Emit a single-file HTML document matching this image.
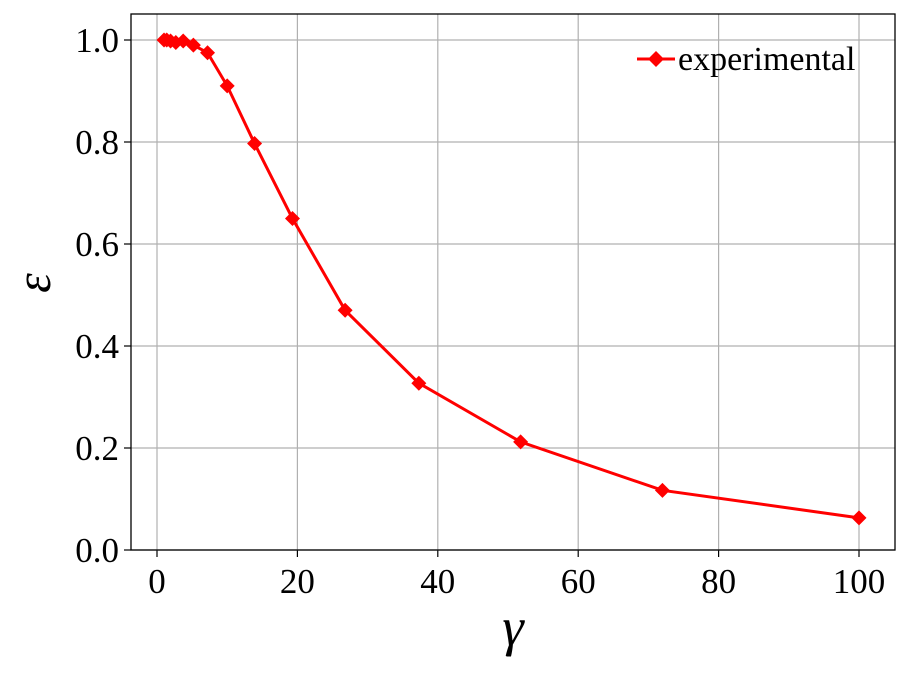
<!DOCTYPE html>
<html><head><meta charset="utf-8"><style>
body{margin:0;background:#fff}
text{font-family:"Liberation Serif",serif}
</style></head><body>
<svg id="c" width="909" height="668"></svg>
<script>
const xs=[1,1.39,1.93,2.68,3.73,5.18,7.2,10,13.9,19.3,26.8,37.3,51.8,72,100];
const ys=[1,1,0.998,0.995,0.998,0.99,0.975,0.91,0.797,0.65,0.47,0.327,0.212,0.117,0.063];
const xticks=[0,20,40,60,80,100];
const yticks=[0,0.2,0.4,0.6,0.8,1.0];
const L=131,R=895,T=14,B=550;
const X=v=>157+v*7.02, Y=v=>550-v*510;
const s=document.getElementById('c'),NS='http://www.w3.org/2000/svg';
function mk(t,a,p){const e=document.createElementNS(NS,t);for(const k in a)e.setAttribute(k,a[k]);(p||s).appendChild(e);return e;}
xticks.forEach(v=>{const g=mk('line',{x1:X(v),x2:X(v),y1:T,y2:B,stroke:'#b0b0b0','stroke-width':1.2});


const t=mk('line',{x1:X(v),x2:X(v),y1:B,y2:B+7,stroke:'#000','stroke-width':1.2});


const l=mk('text',{x:X(v),y:B+43,'font-size':35,'text-anchor':'middle'});l.textContent=v;

});
yticks.forEach(v=>{const g=mk('line',{x1:L,x2:R,y1:Y(v),y2:Y(v),stroke:'#b0b0b0','stroke-width':1.2});


const t=mk('line',{x1:L-7,x2:L,y1:Y(v),y2:Y(v),stroke:'#000','stroke-width':1.2});


const l=mk('text',{x:L-12,y:Y(v)+12,'font-size':35,'text-anchor':'end'});l.textContent=v.toFixed(1);

});
const fr=mk('rect',{x:L,y:T,width:R-L,height:B-T,fill:'none',stroke:'#000','stroke-width':1.3});


const ln=mk('polyline',{points:xs.map((x,i)=>X(x)+','+Y(ys[i])).join(' '),fill:'none',stroke:'red','stroke-width':3});


function dia(cx,cy,r){return mk('polygon',{points:`${cx},${cy-r} ${cx+r},${cy} ${cx},${cy+r} ${cx-r},${cy}`,fill:'red'});}
xs.forEach((x,i)=>{const d=dia(X(x),Y(ys[i]),7.5);

});
const lg=mk('g',{});


mk('line',{x1:637,x2:675,y1:59,y2:59,stroke:'red','stroke-width':3},lg);
lg.appendChild(dia(656,59,8));
const lt=mk('text',{x:678,y:70,'font-size':34},lg);lt.textContent='experimental';
const xl=mk('text',{x:513,y:645,'font-size':54,'font-style':'italic','text-anchor':'middle','font-family':'DejaVu Sans'});xl.textContent='γ';


const yl=mk('text',{x:0,y:0,'font-size':50,'font-style':'italic','text-anchor':'middle','font-family':'DejaVu Sans',transform:'translate(50,283) rotate(-90)'});yl.textContent='ε';


</script>
</body></html>
